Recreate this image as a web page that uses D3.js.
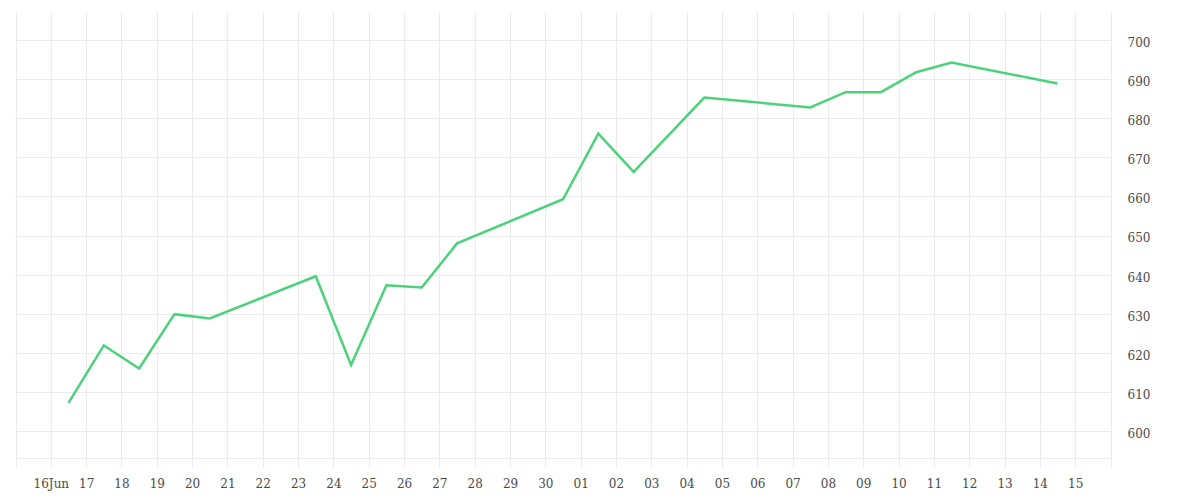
<!DOCTYPE html>
<html>
<head>
<meta charset="utf-8">
<script src="https://cdn.jsdelivr.net/npm/d3@7"></script>
<style>
  html, body { margin: 0; padding: 0; background: #fff; }
  svg { display: block; }
  .tick text { font-family: "DejaVu Serif", serif; font-size: 12px; fill: #4a4a4a; }
</style>
</head>
<body>
<svg id="chart" width="1200" height="500"></svg>
<script>
// ---- data ----
const dates = ["2014-06-16","2014-06-17","2014-06-18","2014-06-19","2014-06-20",
               "2014-06-23","2014-06-24","2014-06-25","2014-06-26","2014-06-27",
               "2014-06-30","2014-07-01","2014-07-02","2014-07-04",
               "2014-07-07","2014-07-08","2014-07-09","2014-07-10","2014-07-11",
               "2014-07-14"];
const values = [607.2, 621.9, 616.0, 629.9, 628.8,
                639.6, 616.9, 637.3, 636.7, 648.0,
                659.3, 676.1, 666.3, 685.3,
                682.8, 686.7, 686.7, 691.8, 694.3,
                688.9];
const xTickDates = ["2014-06-16","2014-06-17","2014-06-18","2014-06-19","2014-06-20","2014-06-21","2014-06-22","2014-06-23","2014-06-24","2014-06-25","2014-06-26","2014-06-27","2014-06-28","2014-06-29","2014-06-30","2014-07-01","2014-07-02","2014-07-03","2014-07-04","2014-07-05","2014-07-06","2014-07-07","2014-07-08","2014-07-09","2014-07-10","2014-07-11","2014-07-12","2014-07-13","2014-07-14","2014-07-15"];
const xTickLabels = ["16Jun","17","18","19","20","21","22","23","24","25","26","27","28","29","30","01","02","03","04","05","06","07","08","09","10","11","12","13","14","15"];
const yTicks = [600, 610, 620, 630, 640, 650, 660, 670, 680, 690, 700];
const xDomain = ["2014-06-15", "2014-07-16"];
const yDomain = [593.1, 707.2];

// ---- layout ----
const mLeft = 15.5, mRight = 1110.5, mTop = 12, mBottom = 458;
const parse = d3.utcParse("%Y-%m-%d");
const svg = d3.select("#chart");

const x = d3.scaleUtc().domain(xDomain.map(parse)).range([mLeft, mRight]);
const y = d3.scaleLinear().domain(yDomain).range([mBottom, mTop]);

const gridColor = "#ebebeb";

// vertical grid lines (all days incl. edges)
const allDays = d3.utcDay.range(parse(xDomain[0]), d3.utcDay.offset(parse(xDomain[1]), 1));
svg.append("g").selectAll("line").data(allDays).join("line")
  .attr("x1", d => Math.round(x(d)) + 0.5).attr("x2", d => Math.round(x(d)) + 0.5)
  .attr("y1", mTop).attr("y2", mBottom + 10)
  .attr("stroke", gridColor).attr("stroke-width", 1);

// horizontal grid lines
svg.append("g").selectAll("line").data(yTicks).join("line")
  .attr("x1", mLeft).attr("x2", mRight)
  .attr("y1", d => Math.round(y(d)) + 0.5).attr("y2", d => Math.round(y(d)) + 0.5)
  .attr("stroke", gridColor).attr("stroke-width", 1);

// bottom border
svg.append("line").attr("x1", mLeft).attr("x2", mRight)
  .attr("y1", mBottom + 0.5).attr("y2", mBottom + 0.5)
  .attr("stroke", gridColor);

// x axis labels
const labelMap = new Map(xTickDates.map((d, i) => [d, xTickLabels[i]]));
const xAxis = d3.axisBottom(x)
  .tickValues(xTickDates.map(parse))
  .tickSize(0).tickPadding(0)
  .tickFormat(d => labelMap.get(d3.utcFormat("%Y-%m-%d")(d)));
const gx = svg.append("g").attr("transform", `translate(0,${mBottom + 21})`).call(xAxis);
gx.select(".domain").remove();

// y axis labels (right)
const yAxis = d3.axisRight(y).tickValues(yTicks).tickSize(0).tickPadding(0).tickFormat(d3.format("d"));
const gy = svg.append("g").attr("transform", `translate(${mRight + 17},2.5)`).call(yAxis);
gy.select(".domain").remove();

// line
const line = d3.line()
  .x((d, i) => x(d3.utcHour.offset(parse(dates[i]), 12)))
  .y(d => y(d));
svg.append("path").datum(values)
  .attr("fill", "none").attr("stroke", "#4cd27b").attr("stroke-width", 2.5)
  .attr("stroke-linejoin", "miter").attr("d", line);
</script>
</body>
</html>
